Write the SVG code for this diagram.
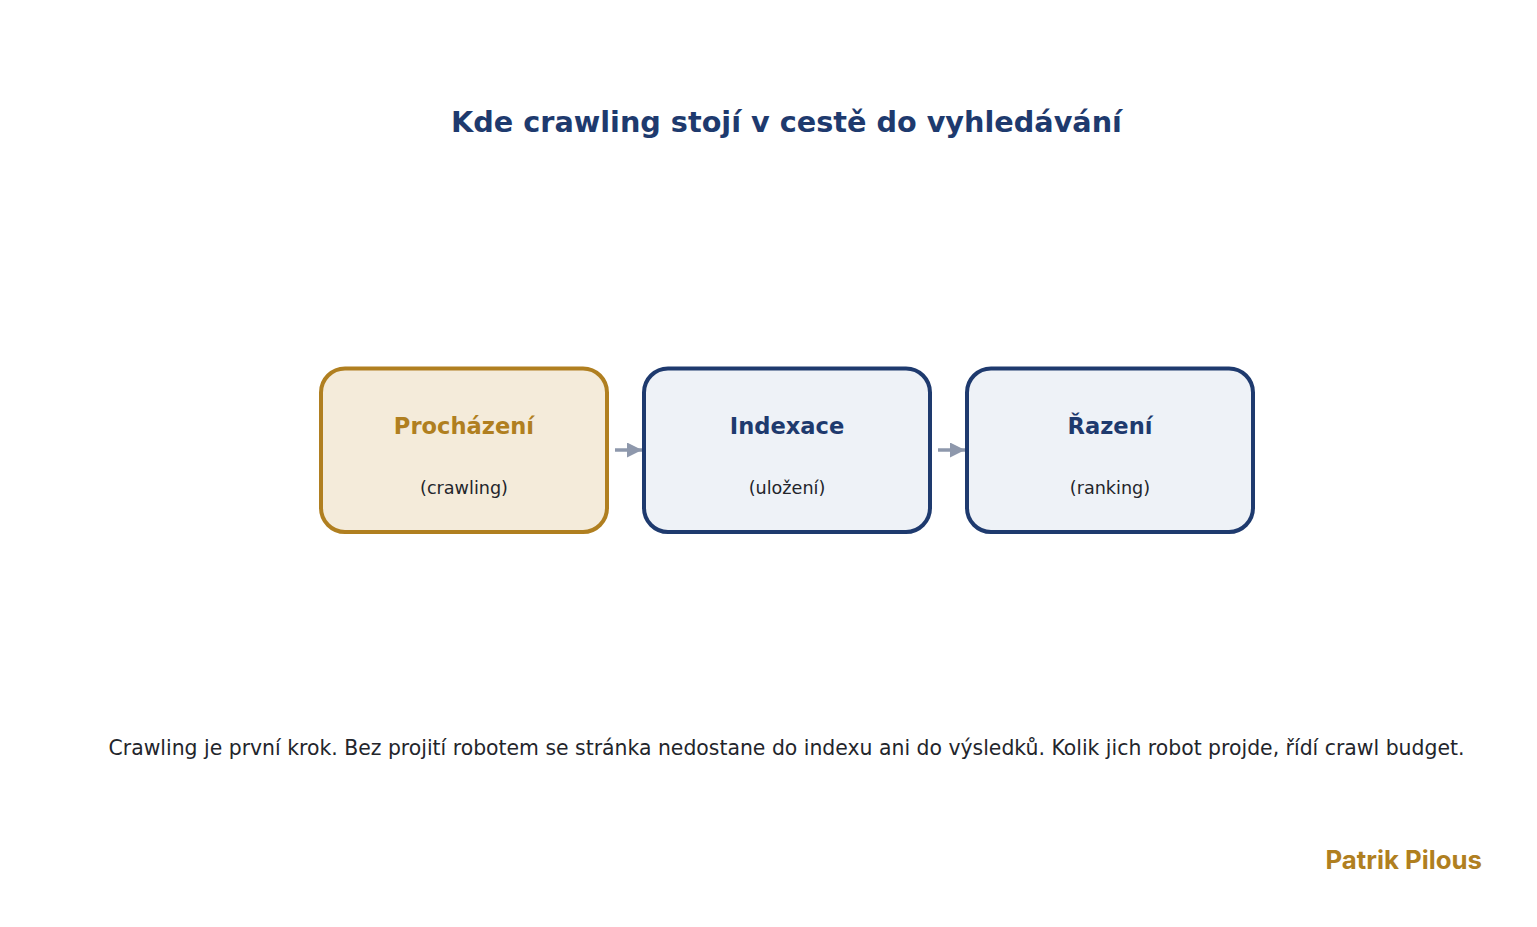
<svg xmlns="http://www.w3.org/2000/svg" width="1537" height="927" viewBox="0 0 1537 927">
<style>
.t{font-family:"DejaVu Sans",sans-serif;}
.title{font-size:28.7px;font-weight:bold;fill:#1E3A6E;text-anchor:middle;}
.h{font-size:22.6px;font-weight:bold;text-anchor:middle;}
.s{font-size:17.6px;fill:#23252B;text-anchor:middle;}
.foot{font-size:20.4px;fill:#23252B;text-anchor:middle;}
.gold{fill:#F4EBDA;stroke:#B07F20;stroke-width:4;}
.navy{fill:#EEF2F7;stroke:#1E3A6E;stroke-width:4;}
.conn{stroke:#8E98AC;stroke-width:3.5;fill:none;}
</style>
<defs>
<marker id="ah" viewBox="0 0 10 10" refX="10" refY="5" markerWidth="16" markerHeight="15" markerUnits="userSpaceOnUse" orient="auto">
<path d="M0,0 L10,5 L0,10 z" fill="#8E98AC"/>
</marker>
</defs>
<rect width="1537" height="927" fill="#FFFFFF"/>
<text class="t title" x="786.5" y="132">Kde crawling stojí v cestě do vyhledávání</text>
<g id="connectors">
<line class="conn" x1="615" y1="450" x2="642" y2="450" marker-end="url(#ah)"/>
<line class="conn" x1="938" y1="450" x2="965" y2="450" marker-end="url(#ah)"/>
</g>
<g id="node-prochazeni">
<rect class="gold" x="321" y="368.5" width="286" height="163.5" rx="24"/>
<text class="t h" x="464" y="434" fill="#B07F20">Procházení</text>
<text class="t s" x="464" y="494">(crawling)</text>
</g>
<g id="node-indexace">
<rect class="navy" x="644" y="368.5" width="286" height="163.5" rx="24"/>
<text class="t h" x="787" y="434" fill="#1E3A6E">Indexace</text>
<text class="t s" x="787" y="494">(uložení)</text>
</g>
<g id="node-razeni">
<rect class="navy" x="967" y="368.5" width="286" height="163.5" rx="24"/>
<text class="t h" x="1110" y="434" fill="#1E3A6E">Řazení</text>
<text class="t s" x="1110" y="494">(ranking)</text>
</g>
<text class="t foot" x="786.5" y="755">Crawling je první krok. Bez projití robotem se stránka nedostane do indexu ani do výsledků. Kolik jich robot projde, řídí crawl budget.</text>
<text x="1482" y="869" font-family="Inter, 'Noto Sans', sans-serif" font-weight="bold" font-size="25.8" fill="#B07F20" text-anchor="end">Patrik Pilous</text>
</svg>
